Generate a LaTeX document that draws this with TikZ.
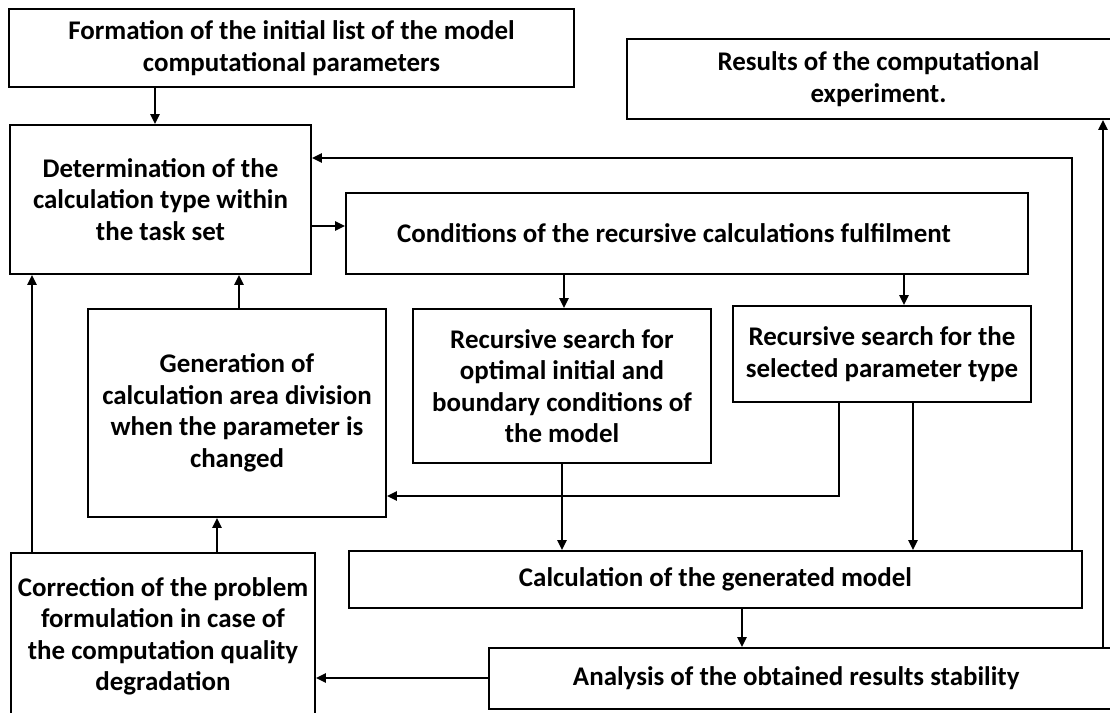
\documentclass[tikz,border=0pt]{standalone}
\usepackage{fontspec}
\setmainfont{Carlito}
\usetikzlibrary{arrows.meta}
\begin{document}
\begin{tikzpicture}[x=0.75pt,y=-0.75pt,
  box/.style={draw, line width=1.4pt, align=center, inner sep=0pt, fill=white,
    font=\bfseries\fontsize{20.2}{23.6}\selectfont},
  sz/.style 2 args={minimum width=#1*0.75pt, minimum height=#2*0.75pt},
  arr/.style={line width=1.4pt, -{Triangle[length=7.5pt,width=7pt]}},
  ln/.style={line width=1.4pt}]
\useasboundingbox (0,0) rectangle (1110,713);
\fill[white] (0,0) rectangle (1110,713);
\clip (0,0) rectangle (1110,713);
% boxes
\node[box, sz={565}{78}] (A) at (291.5,48) {Formation of the initial list of the model\\computational parameters};
\node[box, sz={301}{149}] (B) at (160.5,199.5) {Determination of the\\calculation type within\\the task set};
\node[box, sz={682}{81}] (C) at (687,233.5) {Conditions of the recursive calculations fulfilment\hspace*{19.5pt}};
\node[box, sz={503}{80}] (R) at (878.5,79) {Results of the computational\\experiment.};
\node[box, sz={298}{208}] (G) at (237,413) {Generation of\\calculation area division\\when the parameter is\\changed};
\node[box, sz={298}{154}] (S1) at (562,386) {Recursive search for\\optimal initial and\\boundary conditions of\\the model};
\node[box, sz={298}{96}] (S2) at (882,354) {Recursive search for the\\selected parameter type};
\node[box, sz={733}{57}] (M) at (715.5,579.5) {Calculation of the generated model};
\node[box, sz={641}{61}] (An) at (809.5,678.5) {Analysis of the obtained results stability\hspace*{20pt}};
\node[box, sz={304}{167}] (K) at (163,636.5) {Correction of the problem\\formulation in case of\\the computation quality\\degradation};
% connectors
\draw[arr] (A.south -| 155,0) -- (B.north -| 155,0);
\draw[arr] (B.east |- 0,226) -- (C.west |- 0,226);
\draw[arr] (M.north -| 1072,0) |- (B.east |- 0,158);
\draw[arr] (C.south -| 564,0) -- (S1.north -| 564,0);
\draw[arr] (C.south -| 904,0) -- (S2.north -| 904,0);
\draw[arr] (S2.south -| 839,0) |- (G.east |- 0,496);
\draw[arr] (S1.south -| 562,0) -- (M.north -| 562,0);
\draw[arr] (S2.south -| 913,0) -- (M.north -| 913,0);
\draw[arr] (G.north -| 239,0) -- (B.south -| 239,0);
\draw[arr] (M.south -| 742,0) -- (An.north -| 742,0);
\draw[arr] (An.north -| 1103,0) -- (R.south -| 1103,0);
\draw[arr] (An.west |- 0,678) -- (K.east |- 0,678);
\draw[arr] (K.north -| 217,0) -- (G.south -| 217,0);
\draw[arr] (K.north -| 32,0) -- (B.south -| 32,0);
\end{tikzpicture}
\end{document}
